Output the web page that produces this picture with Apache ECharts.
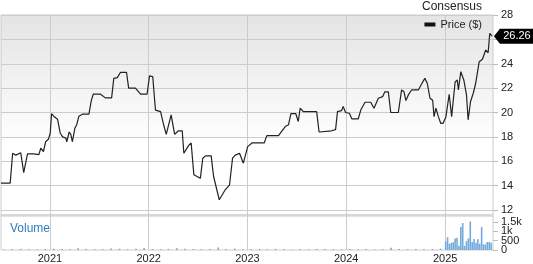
<!DOCTYPE html>
<html>
<head>
<meta charset="utf-8">
<script src="https://cdn.jsdelivr.net/npm/echarts@6/dist/echarts.min.js"></script>
<style>html,body{margin:0;padding:0;background:#fff}#c{width:533px;height:264px}</style>
</head>
<body>
<div id="c"></div>
<script>
const priceDates = [
'2020-07-04','2020-08-07','2020-08-16','2020-08-28','2020-09-15','2020-09-21','2020-09-26','2020-10-01','2020-10-10','2020-11-02','2020-11-21','2020-11-28','2020-12-08','2020-12-16','2020-12-26',
'2021-01-02','2021-01-07','2021-01-15','2021-01-29','2021-02-08','2021-02-17','2021-03-01','2021-03-04','2021-03-13','2021-03-19','2021-03-25','2021-04-03','2021-04-10','2021-04-18','2021-05-01','2021-05-25','2021-06-03','2021-06-10','2021-07-07','2021-07-25','2021-08-17','2021-08-25','2021-09-07','2021-09-19','2021-10-11','2021-10-19','2021-11-13','2021-12-02','2021-12-26',
'2022-01-04','2022-01-16','2022-01-26','2022-02-14','2022-02-24','2022-03-07','2022-03-14','2022-03-25','2022-04-01','2022-04-07','2022-04-21','2022-05-05','2022-05-11','2022-05-29','2022-06-07','2022-06-17','2022-06-29','2022-07-11','2022-07-20','2022-07-30','2022-08-20','2022-08-29','2022-09-04','2022-09-19','2022-10-11','2022-10-27','2022-11-07','2022-11-17','2022-12-03','2022-12-17',
'2023-01-02','2023-01-18','2023-03-04','2023-03-14','2023-04-26','2023-05-09','2023-05-21','2023-06-02','2023-06-11','2023-06-29','2023-07-08','2023-07-15','2023-07-27','2023-09-14','2023-09-23','2023-11-08','2023-11-23','2023-11-30','2023-12-15','2023-12-21','2023-12-30',
'2024-01-13','2024-01-22','2024-02-15','2024-02-24','2024-03-11','2024-04-01','2024-04-13','2024-04-29','2024-05-15','2024-05-23','2024-06-05','2024-06-14','2024-07-12','2024-07-24','2024-08-02','2024-08-09','2024-08-18','2024-08-30','2024-09-24','2024-10-06','2024-10-18','2024-10-27','2024-11-06','2024-11-16','2024-11-21','2024-11-28','2024-12-07','2024-12-16','2024-12-24',
'2025-01-04','2025-01-16','2025-01-25','2025-02-07','2025-02-15','2025-02-19','2025-02-28','2025-03-11','2025-03-21','2025-03-27','2025-04-05','2025-04-15','2025-04-24','2025-05-07','2025-05-19','2025-05-31','2025-06-09','2025-06-15','2025-06-19','2025-06-23'
];
const priceValues = [
14.2,14.2,16.66,16.5,16.7,16.6,15.07,15.1,16.6,16.6,16.55,17.07,16.8,17.6,17.8,
18.3,19.9,19.7,19.45,18.3,18.0,17.9,17.6,18.4,18.2,17.6,18.7,19.0,19.7,19.86,19.86,21.0,21.5,21.5,21.2,21.2,22.8,22.86,23.3,23.3,22.0,22.0,21.5,21.5,
23.0,22.95,20.2,20.07,19.1,18.2,18.2,19.8,19.7,18.2,18.5,18.5,16.66,17.3,17.5,14.9,14.75,14.6,16.25,16.44,16.44,14.75,14.9,12.84,13.66,14.07,16.25,16.5,16.66,15.84,
17.2,17.5,17.5,18.1,18.1,18.5,18.85,19.0,19.9,19.9,19.26,20.35,20.07,20.07,18.4,18.5,18.6,20.07,20.15,20.5,20.0,
19.94,19.48,19.48,20.2,20.84,20.84,20.35,21.17,21.3,21.7,21.7,20.0,20.0,21.85,21.7,20.98,21.44,21.85,21.85,22.34,22.8,22.4,21.17,21.0,19.66,20.35,19.66,19.1,19.1,
19.66,21.5,19.66,22.5,22.67,21.85,23.35,22.67,21.44,19.4,20.9,21.58,22.4,24.17,24.37,25.13,24.9,26.5,26.63,26.26
];
const volDates = [
'2020-07-15','2020-08-15','2020-09-15','2020-10-15','2020-11-15','2020-12-15',
'2021-01-15','2021-02-15','2021-03-15','2021-04-15','2021-05-15','2021-06-15','2021-07-15','2021-08-15','2021-09-15','2021-10-15','2021-11-15','2021-12-15',
'2022-01-15','2022-02-15','2022-03-15','2022-04-15','2022-05-15','2022-06-15','2022-07-15','2022-08-15','2022-09-15','2022-10-15','2022-11-15','2022-12-15',
'2023-01-15','2023-02-15','2023-03-15','2023-04-15','2023-05-15','2023-06-15','2023-07-15','2023-08-15','2023-09-15','2023-10-15','2023-11-15','2023-12-15',
'2024-01-15','2024-02-15','2024-03-15','2024-04-15','2024-05-15','2024-06-15','2024-07-15','2024-08-15','2024-09-15','2024-10-15','2024-11-15','2024-12-15',
'2025-01-03','2025-01-10','2025-01-17','2025-01-24','2025-01-31','2025-02-07','2025-02-14','2025-02-21','2025-02-28','2025-03-07','2025-03-14','2025-03-21','2025-03-28','2025-04-04','2025-04-11','2025-04-18','2025-04-25','2025-05-02','2025-05-09','2025-05-16','2025-05-23','2025-05-30','2025-06-06','2025-06-13','2025-06-20'
];
const volValues = [
30,45,60,40,35,50,
70,55,40,90,60,45,50,80,65,40,70,110,
50,45,60,95,70,55,40,60,130,50,75,45,
40,55,35,60,45,30,40,35,60,50,45,35,
55,40,50,30,45,120,60,40,55,35,45,70,
462,681,333,381,414,619,652,224,1224,1443,224,490,619,1524,429,586,381,571,333,1224,300,300,429,429,381
];
const yearTicks = ['2021-01-01','2022-01-01','2023-01-01','2024-01-01','2025-01-01'];
const priceTicks = [12,14,16,18,20,22,24,26,28];
const volTicksA = [0,1000];
const volTicksB = [500,1500];
const lastLabel = '26.26';

const ts = d => Date.UTC(+d.slice(0,4), +d.slice(5,7) - 1, +d.slice(8,10));
const tickTimes = yearTicks.map(ts);
const FONT = 'Liberation Sans, Arial, sans-serif';
const chart = echarts.init(document.getElementById('c'), null, {renderer: 'canvas'});
const xMin = ts('2020-07-04');
const xMax = ts('2025-06-27');
const priceData = priceDates.map((d, i) => [ts(d), priceValues[i]]);
const volData = volDates.map((d, i) => [ts(d), volValues[i]]);
const volFmt = v => v >= 1000 ? (v / 1000) + 'k' : String(v);
const volAxis = vals => ({
  type: 'value', gridIndex: 1, position: 'right', min: 0, max: 1869,
  axisLine: {show: false},
  axisTick: {show: true, length: 5, customValues: vals, lineStyle: {color: '#bbbbbb'}},
  axisLabel: {customValues: vals, margin: 8, fontSize: 11, color: '#222', fontFamily: FONT,
    showMinLabel: true, showMaxLabel: true, formatter: volFmt},
  splitLine: {show: false}
});

chart.setOption({
  animation: false,
  textStyle: {fontFamily: FONT},
  title: [
    {text: 'Consensus', right: 51, top: 1, padding: 0, textStyle: {fontSize: 12, fontWeight: 'normal', color: '#222', fontFamily: FONT}},
    {text: 'Volume', left: 10, top: 223, padding: 0, textStyle: {fontSize: 12, fontWeight: 'normal', color: '#2f7dc0', fontFamily: FONT}}
  ],
  legend: {
    data: ['Price ($)'], right: 51, top: 19, padding: 0, icon: 'rect', itemWidth: 11, itemHeight: 4, itemGap: 4,
    textStyle: {fontSize: 11, color: '#222', fontFamily: FONT}
  },
  grid: [
    {left: 1, right: 40, top: 15, height: 200, show: true, borderColor: '#cccccc', borderWidth: 1,
     backgroundColor: {type: 'linear', x: 0, y: 0, x2: 0, y2: 1, colorStops: [{offset: 0, color: '#e4e4e4'}, {offset: 0.65, color: '#ffffff'}, {offset: 1, color: '#ffffff'}]}},
    {left: 1, right: 40, top: 215, height: 39, show: true, borderColor: '#cccccc', borderWidth: 1,
     backgroundColor: {type: 'linear', x: 0, y: 0, x2: 0, y2: 1, colorStops: [{offset: 0, color: '#e2e2e2'}, {offset: 0.08, color: '#e2e2e2'}, {offset: 0.08, color: '#ffffff'}, {offset: 1, color: '#ffffff'}]}}
  ],
  xAxis: [
    {type: 'value', gridIndex: 0, min: xMin, max: xMax,
     axisLine: {show: false}, axisTick: {show: false, customValues: tickTimes},
     axisLabel: {show: false, customValues: tickTimes},
     splitLine: {show: true, lineStyle: {color: '#cccccc', width: 1}}},
    {type: 'value', gridIndex: 1, min: xMin, max: xMax,
     axisLine: {show: false}, axisTick: {show: false, customValues: tickTimes},
     axisLabel: {show: true, customValues: tickTimes, margin: 3, fontSize: 11, color: '#222', fontFamily: FONT,
       formatter: v => String(new Date(v).getUTCFullYear())},
     splitLine: {show: true, lineStyle: {color: '#cccccc', width: 1}}}
  ],
  yAxis: [
    {type: 'value', gridIndex: 0, position: 'right', min: 11.59, max: 28,
     axisLine: {show: false},
     axisTick: {show: true, length: 5, customValues: priceTicks, lineStyle: {color: '#bbbbbb'}},
     axisLabel: {customValues: priceTicks, margin: 8, fontSize: 11, color: '#222', fontFamily: FONT},
     splitLine: {show: true, lineStyle: {color: '#cccccc', width: 1}}},
    volAxis(volTicksA),
    volAxis(volTicksB)
  ],
  series: [
    {name: 'Price ($)', type: 'line', xAxisIndex: 0, yAxisIndex: 0,
     data: priceData,
     showSymbol: false, symbol: 'none', itemStyle: {color: '#111'},
     lineStyle: {color: '#222', width: 1.2}, z: 5,
     markPoint: {
       symbol: 'path://M0,5 L6,0 L40,0 L40,10 L6,10 Z', symbolSize: [40, 15], symbolKeepAspect: false,
       symbolOffset: [22, 0], itemStyle: {color: '#000'},
       label: {show: true, color: '#fff', fontSize: 11, fontFamily: FONT, offset: [3, 0], formatter: lastLabel},
       data: [{coord: priceData[priceData.length - 1]}]
     }},
    {name: 'Volume', type: 'bar', xAxisIndex: 1, yAxisIndex: 1,
     data: volData,
     barWidth: 1.6, itemStyle: {color: '#74a9dc'}}
  ]
});
</script>
</body>
</html>
